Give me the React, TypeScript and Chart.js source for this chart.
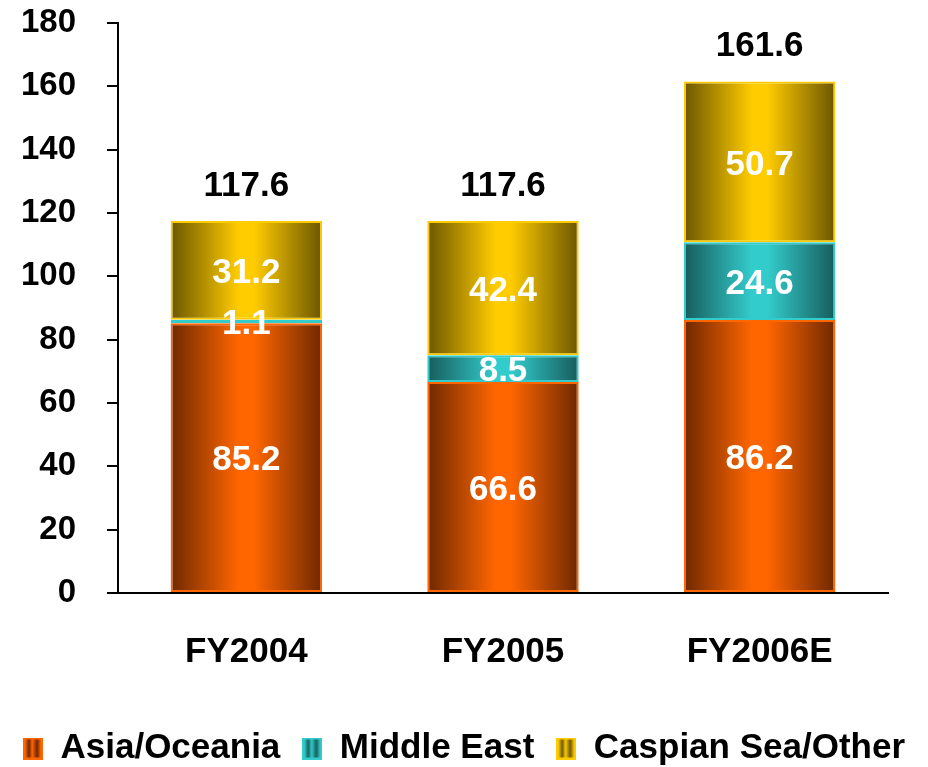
import React, { useEffect, useRef } from "react";
import { Chart, registerables } from "chart.js";

Chart.register(...registerables);

const categories = ["FY2004", "FY2005", "FY2006E"];
const seriesNames = ["Asia/Oceania", "Middle East", "Caspian Sea/Other"];
const asiaOceania = [85.2, 66.6, 86.2];
const middleEast = [1.1, 8.5, 24.6];
const caspianOther = [31.2, 42.4, 50.7];
const totals = [117.6, 117.6, 161.6];
const yMin = 0;
const yMax = 180;
const yStep = 20;

const FONT = '"Liberation Sans", Arial, Helvetica, sans-serif';
const BAR_PCT = 0.59;

const palettes = [
  { dark: "#6e2800", bright: "#ff6600", border: "#ff6600" },
  { dark: "#175c5c", bright: "#33cccc", border: "#33cccc" },
  { dark: "#6b5600", bright: "#ffcc00", border: "#ffcc00" },
];

function barGradient(pal: { dark: string; bright: string }) {
  return (ctx: any) => {
    const chart = ctx.chart;
    const xScale = chart.scales && chart.scales.x;
    if (!chart.chartArea || !xScale || ctx.type !== "data") return pal.bright;
    const center = xScale.getPixelForValue(ctx.dataIndex);
    const half = ((xScale.width / categories.length) * BAR_PCT) / 2;
    const g = chart.ctx.createLinearGradient(center - half, 0, center + half, 0);
    g.addColorStop(0, pal.dark);
    g.addColorStop(0.45, pal.bright);
    g.addColorStop(0.55, pal.bright);
    g.addColorStop(1, pal.dark);
    return g;
  };
}

function makeMarker(pal: { dark: string; bright: string; border: string }) {
  const c = document.createElement("canvas");
  c.width = 20;
  c.height = 22;
  const x = c.getContext("2d")!;
  x.fillStyle = pal.border;
  x.fillRect(0, 0, 20, 22);
  const g = x.createLinearGradient(2, 0, 18, 0);
  g.addColorStop(0, pal.bright);
  g.addColorStop(0.25, pal.dark);
  g.addColorStop(0.45, pal.bright);
  g.addColorStop(0.75, pal.dark);
  g.addColorStop(1, pal.bright);
  x.fillStyle = g;
  x.fillRect(2, 2, 16, 18);
  return c;
}

const labelsPlugin = {
  id: "valueLabels",
  afterDatasetsDraw(chart: any) {
    const ctx = chart.ctx;
    ctx.save();
    ctx.textAlign = "center";
    ctx.textBaseline = "middle";
    ctx.font = `bold 35px ${FONT}`;
    ctx.fillStyle = "#ffffff";
    chart.data.datasets.forEach((ds: any, di: number) => {
      const meta = chart.getDatasetMeta(di);
      meta.data.forEach((el: any, i: number) => {
        const v = ds.data[i];
        ctx.fillText(v.toFixed(1), el.x, (el.y + el.base) / 2 + 3);
      });
    });
    const lastMeta = chart.getDatasetMeta(chart.data.datasets.length - 1);
    ctx.fillStyle = "#000000";
    lastMeta.data.forEach((el: any, i: number) => {
      ctx.fillText(totals[i].toFixed(1), el.x, el.y - 35);
    });
    ctx.restore();
  },
};

export default function App() {
  const ref = useRef<HTMLCanvasElement | null>(null);
  useEffect(() => {
    if (!ref.current) return;
    const markers = palettes.map(makeMarker);
    const seriesData = [asiaOceania, middleEast, caspianOther];
    const chart = new Chart(ref.current, {
      type: "bar",
      data: {
        labels: categories,
        datasets: seriesData.map((d, i) => ({
          label: seriesNames[i],
          data: d,
          backgroundColor: barGradient(palettes[i]),
          borderColor: palettes[i].border,
          borderWidth: 2,
          borderSkipped: false,
          barPercentage: BAR_PCT,
          categoryPercentage: 1,
        })),
      },
      options: {
        responsive: false,
        animation: false,
        events: [],
        layout: { padding: { left: 0, right: 0, top: 23, bottom: -9 } },
        scales: {
          x: {
            stacked: true,
            grid: { display: false },
            border: { display: true, color: "#000", width: 2 },
            ticks: { color: "#000", font: { family: FONT, size: 35, weight: "bold" }, padding: 30 },
            afterFit: (s: any) => {
              s.height = 116;
              s.paddingLeft = 0;
              s.paddingRight = 0;
            },
          },
          y: {
            stacked: true,
            min: yMin,
            max: yMax,
            grid: { drawOnChartArea: false, drawTicks: true, tickLength: 11, color: "#000", lineWidth: 2 },
            border: { display: true, color: "#000", width: 2 },
            ticks: {
              stepSize: yStep,
              color: "#000",
              padding: 31,
              font: { family: FONT, size: 33, weight: "bold" },
            },
            afterFit: (s: any) => {
              s.width = 118;
              s.paddingTop = 0;
              s.paddingBottom = 0;
            },
          },
          yRightSpace: {
            position: "right",
            display: true,
            min: yMin,
            max: yMax,
            grid: { display: false },
            border: { display: false },
            ticks: { display: false },
            afterFit: (s: any) => {
              s.width = 40;
              s.paddingTop = 0;
              s.paddingBottom = 0;
            },
          },
        },
        plugins: {
          tooltip: { enabled: false },
          legend: {
            position: "bottom",
            labels: {
              color: "#000",
              font: { family: FONT, size: 35, weight: "bold" },
              boxWidth: 20,
              boxHeight: 22,
              padding: 22,
              usePointStyle: true,
              generateLabels: (c: any) =>
                c.data.datasets.map((ds: any, i: number) => ({
                  text: ds.label,
                  fillStyle: palettes[i].bright,
                  strokeStyle: palettes[i].border,
                  lineWidth: 0,
                  pointStyle: markers[i],
                  hidden: false,
                  datasetIndex: i,
                  fontColor: "#000",
                })),
            },
          },
        },
      },
      plugins: [labelsPlugin],
    } as any);
    return () => chart.destroy();
  }, []);
  return (
    <div style={{ position: "fixed", left: 0, top: 0, width: 928, height: 767, background: "#fff" }}>
      <canvas ref={ref} width={928} height={767} style={{ display: "block" }} />
    </div>
  );
}
